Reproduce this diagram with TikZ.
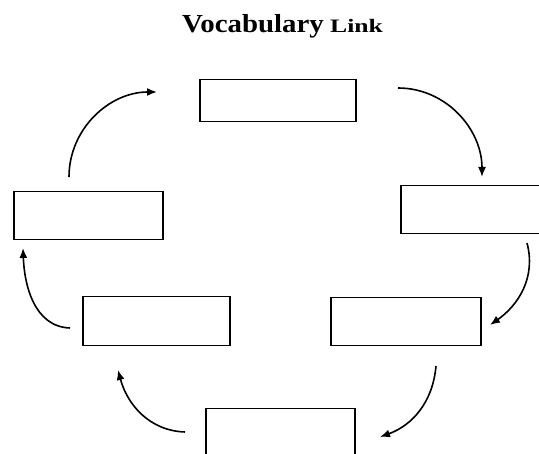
\documentclass[tikz,border=0pt]{standalone}
\usepackage{fontspec}
\setmainfont{Liberation Serif}
\usetikzlibrary{arrows.meta}
\tikzset{
  blank/.style={draw=black, line width=1.5pt, rectangle, inner sep=0pt, anchor=north west},
  link/.style={draw=black, line width=1.6pt, -{Latex[length=10pt,width=8pt]}},
  titletext/.style={anchor=base west, inner sep=0pt, font=\bfseries},
}
\begin{document}
\begin{tikzpicture}[x=1pt,y=-1pt]
\useasboundingbox (0,0) rectangle (539,454);
\clip (0,0) rectangle (539,454);
\node[titletext] (title) at (182,33) {\scalebox{1.11}[1]{\fontsize{26}{30}\selectfont Vocabulary}};
\node[titletext] (title2) at (330,33) {\scalebox{1.35}[1]{\fontsize{19}{22}\selectfont Link}};
\node[blank, minimum width=156pt, minimum height=42pt] (top) at (199,79) {};
\node[blank, minimum width=150pt, minimum height=48pt] (right) at (400,185) {};
\node[blank, minimum width=149pt, minimum height=48pt] (left) at (13,191) {};
\node[blank, minimum width=147pt, minimum height=49pt] (midl) at (82,296) {};
\node[blank, minimum width=150pt, minimum height=48pt] (midr) at (330,297) {};
\node[blank, minimum width=149pt, minimum height=60pt] (bot) at (205,408) {};
\coordinate (a1s) at (69,177); \coordinate (a1e) at (157,92);
\coordinate (a2s) at (398,88); \coordinate (a2e) at (482,177);
\coordinate (a3s) at (527,243); \coordinate (a3e) at (490,325);
\coordinate (a4s) at (436,366); \coordinate (a4e) at (380,437);
\coordinate (a5s) at (185,432); \coordinate (a5e) at (118,370);
\coordinate (a6s) at (70,328); \coordinate (a6e) at (23,248);
\draw[link] (a1s) to[out=90,in=180] (a1e);
\draw[link] (a2s) to[out=0,in=90] (a2e);
\draw[link] (a3s) to[out=-75,in=35] (a3e);
\draw[link] (a4s) to[out=-95,in=20] (a4e);
\draw[link] (a5s) to[out=178,in=-75] (a5e);
\draw[link] (a6s) to[out=178,in=-88] (a6e);
\end{tikzpicture}
\end{document}
